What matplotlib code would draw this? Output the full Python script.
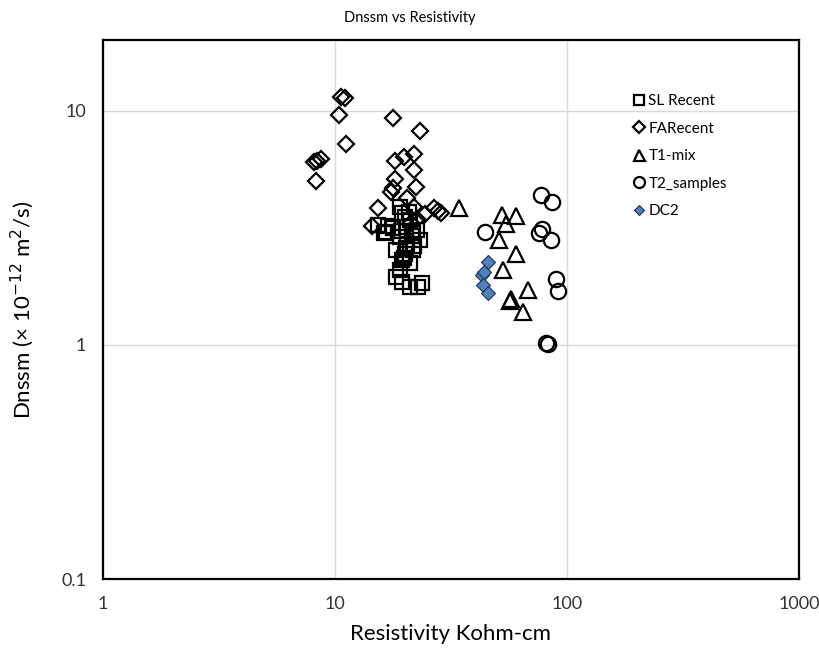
import matplotlib
matplotlib.use("Agg")
import matplotlib.pyplot as plt

plt.rcParams['font.family'] = ['Lato', 'DejaVu Sans']

# SL Recent (squares)
sl_x = [15.3, 16.3, 17.7, 19.0, 19.5, 21.0, 20.3, 19.0, 21.6, 23.2, 18.4, 21.6, 19.5, 21.0,
        19.0, 18.4, 19.5, 21.0, 22.7, 23.8, 20.0, 20.5, 20.0, 20.3, 19.8, 21.5, 22.5, 20.8,
        22.0, 19.2, 17.0, 16.6]
sl_y = [3.26, 3.01, 3.16, 3.89, 3.66, 3.42, 3.19, 2.89, 3.01, 2.81, 2.55, 2.55, 2.31, 2.24,
        2.09, 1.95, 1.86, 1.77, 1.77, 1.84, 3.5, 2.7, 2.45, 2.6, 2.35, 2.9, 3.1, 3.7,
        2.65, 3.05, 3.2, 3.04]

# FARecent (diamonds)
fa_x = [10.6, 11.0, 10.4, 11.2, 8.1, 8.4, 8.7, 8.3, 17.7, 23.2, 18.2, 19.8, 22.0, 21.8,
        18.2, 17.7, 17.5, 22.3, 15.3, 20.5, 22.0, 26.6, 27.7, 28.5, 14.5, 24.4, 22.6, 21.2]
fa_y = [11.4, 11.3, 9.6, 7.2, 6.0, 6.1, 6.2, 5.0, 9.3, 8.2, 6.1, 6.36, 6.5, 5.55,
        5.1, 4.69, 4.47, 4.73, 3.85, 4.25, 3.89, 3.85, 3.73, 3.66, 3.22, 3.6, 3.45, 3.3]

# T1-mix (triangles)
t1_x = [34.1, 52.7, 60.0, 54.8, 50.7, 60.5, 53.2, 67.6, 57.1, 56.6, 64.9]
t1_y = [3.85, 3.59, 3.56, 3.29, 2.81, 2.45, 2.09, 1.72, 1.57, 1.53, 1.38]

# T2_samples (circles)
t2_x = [77.6, 86.5, 44.1, 78.4, 76.0, 85.7, 90.0, 91.8, 81.5, 82.5]
t2_y = [4.37, 4.05, 3.04, 3.13, 3.0, 2.81, 1.90, 1.70, 1.02, 1.01]

# DC2 (filled blue diamonds)
dc_x = [45.5, 43.2, 43.6, 45.5, 44.0]
dc_y = [2.26, 1.99, 1.80, 1.67, 2.05]

fig = plt.figure(figsize=(8.19, 6.58), dpi=100)
ax = fig.add_axes([103/819, 1 - 579/658, (799 - 103)/819, (579 - 40)/658])

ax.set_xscale('log')
ax.set_yscale('log')
ax.set_xlim(1, 1000)
ax.set_ylim(0.1, 20)

ax.grid(True, which='major', color='#d9d9d9', linewidth=1.0)
ax.set_axisbelow(True)

ax.plot(sl_x, sl_y, linestyle='none', marker='s', markersize=10, markerfacecolor='none',
        markeredgecolor='black', markeredgewidth=1.6, label='SL Recent')
ax.plot(fa_x, fa_y, linestyle='none', marker='D', markersize=8, markerfacecolor='none',
        markeredgecolor='black', markeredgewidth=1.6, label='FARecent')
ax.plot(t1_x, t1_y, linestyle='none', marker='^', markersize=11, markerfacecolor='none',
        markeredgecolor='black', markeredgewidth=1.6, label='T1-mix')
ax.plot(t2_x, t2_y, linestyle='none', marker='o', markersize=11, markerfacecolor='none',
        markeredgecolor='black', markeredgewidth=1.6, label='T2_samples')
ax.plot(dc_x, dc_y, linestyle='none', marker='D', markersize=7, markerfacecolor='#4f81bd',
        markeredgecolor='#1f2f4f', markeredgewidth=0.8, label='DC2')

ax.set_xticks([1, 10, 100, 1000])
ax.set_xticklabels(['1', '10', '100', '1000'])
ax.set_yticks([0.1, 1, 10])
ax.set_yticklabels(['0.1', '1', '10'])
ax.minorticks_off()
ax.tick_params(axis='both', which='both', length=0, labelsize=13, colors='#333333', pad=12)

for s in ax.spines.values():
    s.set_linewidth(1.6)
    s.set_color('black')

ax.set_xlabel('Resistivity Kohm-cm', fontsize=16, labelpad=9)
ax.set_ylabel('Dnssm (× 10$^{-12}$ m$^2$/s)', fontsize=16, labelpad=18)
fig.text(0.5, 0.972, 'Dnssm vs Resistivity', ha='center', va='center', fontsize=10.5)

leg = ax.legend(loc='upper left', bbox_to_anchor=(0.742, 0.925), frameon=False, fontsize=11,
                handlelength=0.7, handletextpad=0.3, labelspacing=0.88, markerscale=0.72)

fig.savefig('out.png', dpi=100)
